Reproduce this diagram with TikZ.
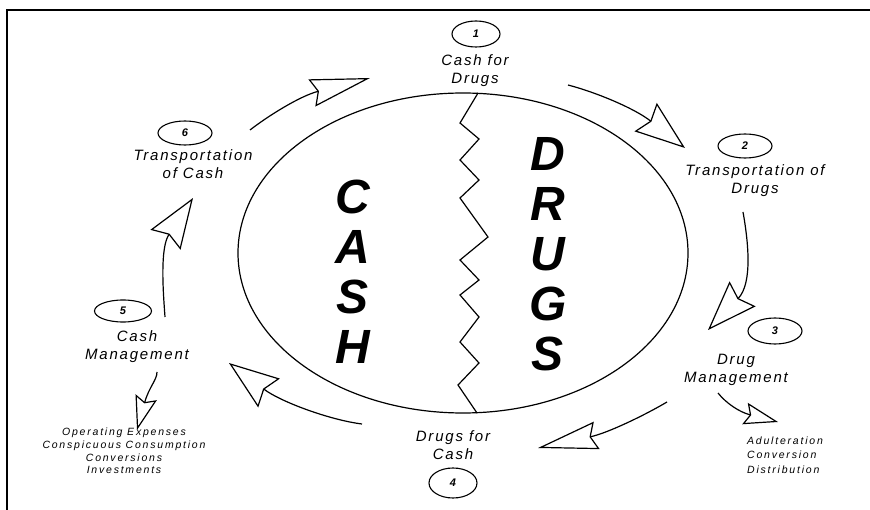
\documentclass[tikz,border=0pt]{standalone}
\usepackage{fontspec}
\setmainfont{Liberation Sans}
\newfontfamily\lblfont[LetterSpace=12]{Liberation Sans}
\newfontfamily\subfont[LetterSpace=17]{Liberation Sans}
\usetikzlibrary{arrows.meta,shapes.geometric}

\tikzset{
  frameline/.style={line width=1.6pt},
  ring/.style={line width=1.2pt},
  lbl/.style={font=\lblfont\itshape\fontsize{15}{18}\selectfont, align=center, inner sep=0pt},
  sublist/.style={inner sep=0pt},
  num/.style={draw, ellipse, line width=1.1pt, inner sep=0pt,
              font=\bfseries\itshape\fontsize{11}{12}\selectfont},
  big/.style={font=\bfseries\itshape\fontsize{48}{50}\selectfont, align=center, inner sep=0pt},
  flow/.style={line width=1.2pt, -{Stealth[open, length=50pt, width=36pt, inset=6pt]}},
  flowlong/.style={line width=1.2pt, -{Stealth[open, length=60pt, width=28pt, inset=6pt]}},
  twig/.style={line width=1.2pt, -{Stealth[open, length=34pt, width=22pt, inset=5pt]}},
}

\begin{document}
\begin{tikzpicture}[x=1pt,y=-1pt]
  \useasboundingbox (0,0) rectangle (870,510);

  % page frame (top and left edges)
  \draw[frameline] (7,510) -- (7,10) -- (870,10);

  % central cash / drugs ellipse split by a jagged line
  \draw[ring] (463,253) ellipse [x radius=225pt, y radius=160pt];
  \draw[ring] (478,93) -- (460,123) -- (479,139) -- (460,160) -- (479,180)
    -- (460,198) -- (488,237) -- (460,260) -- (479,280) -- (460,295)
    -- (479,317) -- (460,342) -- (479,363) -- (458,385) -- (477,413);

  \node[big] (cash)  at (353,272) {C\\A\\S\\H};
  \node[big] (drugs) at (548,254) {D\\R\\U\\G\\S};

  % numbered stages
  \node[num, minimum width=48pt, minimum height=26pt] (n1) at (476,34)  {1};
  \node[num, minimum width=54pt, minimum height=24pt] (n2) at (745,146) {2};
  \node[num, minimum width=54pt, minimum height=26pt] (n3) at (775,331) {3};
  \node[num, minimum width=48pt, minimum height=30pt] (n4) at (453,483) {4};
  \node[num, minimum width=57pt, minimum height=22pt] (n5) at (123,311) {5};
  \node[num, minimum width=54pt, minimum height=24pt] (n6) at (185,133) {6};

  \node[lbl] (l1) at (475,71)  {Cash for\\Drugs};
  \node[lbl] (l2) at (755,181) {Transportation of\\Drugs};
  \node[lbl] (l3) at (736,370) {Drug\\Management};
  \node[lbl] (l4) at (453,445) {Drugs for\\Cash};
  \node[lbl] (l5) at (137,347) {Cash\\Management};
  \node[lbl] (l6) at (193,164) {Transportation\\of Cash};

  \node[sublist, anchor=west, align=left, font=\subfont\itshape\fontsize{10.5}{14.5}\selectfont]
    (uses3) at (747,455) {Adulteration\\Conversion\\Distribution};
  \node[sublist, align=center, font=\subfont\itshape\fontsize{10.5}{12.7}\selectfont]
    (uses5) at (124,451) {Operating Expenses\\Conspicuous Consumption\\Conversions\\Investments};

  % ends of the cycle arrows
  \coordinate (a1s) at (568,85);  \coordinate (a1e) at (685,148);
  \coordinate (a2s) at (743,212); \coordinate (a2e) at (708,330);
  \coordinate (a3s) at (667,402); \coordinate (a3e) at (538,448);
  \coordinate (a4s) at (362,424); \coordinate (a4e) at (229,363);
  \coordinate (a5s) at (165,317); \coordinate (a5e) at (193,198);
  \coordinate (a6s) at (250,130); \coordinate (a6e) at (370,78);
  \coordinate (b3s) at (718,393); \coordinate (b3e) at (778,422);
  \coordinate (b5s) at (157,372); \coordinate (b5e) at (137,430);

  % cycle arrows
  \draw[flow]     (a1s) .. controls (595,92)  and (634,108) .. (a1e);
  \draw[flow]     (a2s) .. controls (748,240) and (753,283) .. (a2e);
  \draw[flowlong] (a3s) .. controls (645,415) and (608,433) .. (a3e);
  \draw[flow]     (a4s) .. controls (330,420) and (281,402) .. (a4e);
  \draw[flow]     (a5s) .. controls (163,290) and (160,248) .. (a5e);
  \draw[flowlong] (a6s) .. controls (268,116) and (300,96)  .. (a6e);

  % branch arrows to the uses lists
  \draw[twig] (b3s) .. controls (726,403) and (739,412) .. (b3e);
  \draw[twig] (b5s) .. controls (157,380) and (149,387) .. (b5e);
\end{tikzpicture}
\end{document}
